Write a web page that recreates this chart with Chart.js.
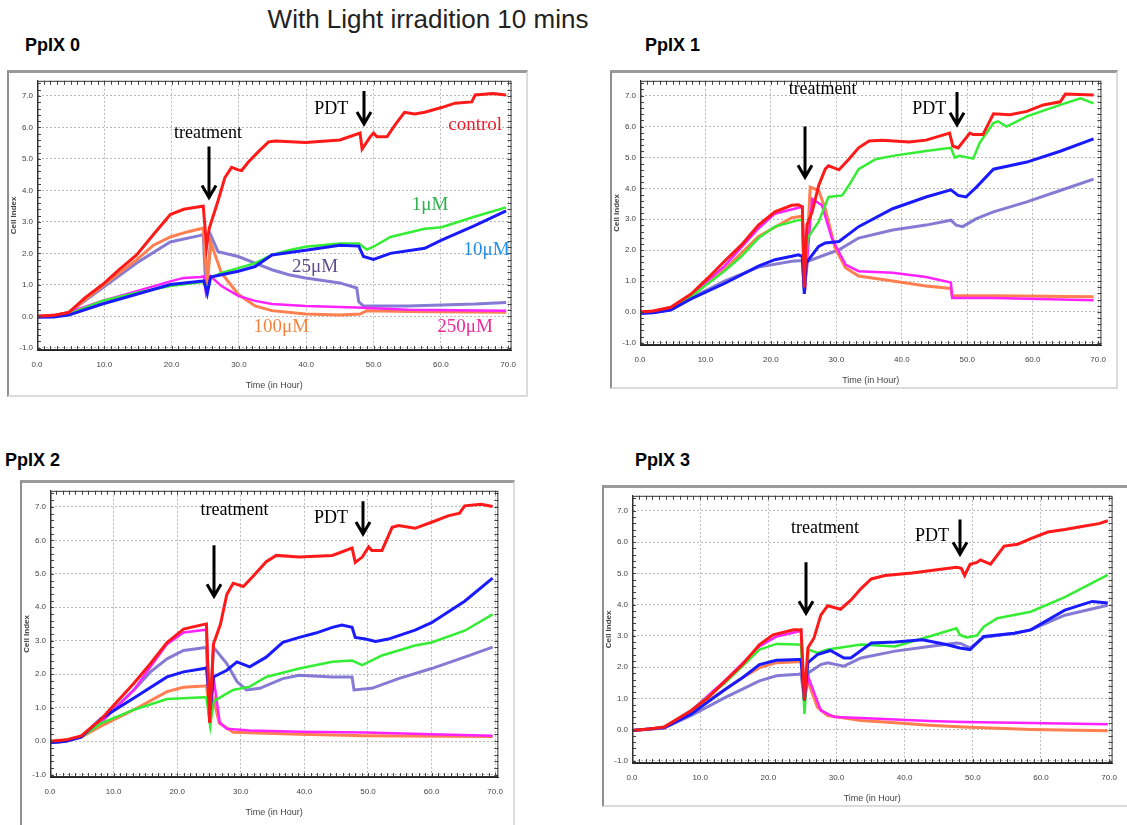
<!DOCTYPE html>
<html>
<head>
<meta charset="utf-8">
<script src="https://cdn.jsdelivr.net/npm/chart.js@4.4.1/dist/chart.umd.min.js"></script>
<style>
  body { margin: 0; background: #fff; width: 1127px; height: 825px; position: relative; overflow: hidden; }
  .title { position: absolute; left: 0; width: 856px; top: 4px; text-align: center; font: 26px "Liberation Sans", Arial, sans-serif; color: #222; }
  .ptitle { position: absolute; font: bold 18px "Liberation Sans", Arial, sans-serif; color: #000; }
  .frame { position: absolute; box-sizing: border-box; border-top: 3px solid #9a9a9a; border-left: 2px solid #8f8f8f;
           border-right: 2px solid #dcdcdc; border-bottom: 2px solid #dcdcdc; background: #fff; }
  canvas { position: absolute; }
</style>
</head>
<body>
<div class="title">With Light irradition 10 mins</div>
<div class="ptitle" style="left:25px;top:35px">PpIX 0</div>
<div class="ptitle" style="left:645px;top:35px">PpIX 1</div>
<div class="ptitle" style="left:5px;top:450px">PpIX 2</div>
<div class="ptitle" style="left:635px;top:450px">PpIX 3</div>

<div class="frame" style="left:7px;top:70px;width:521px;height:327px"></div>
<div class="frame" style="left:610px;top:70px;width:508px;height:319px"></div>
<div class="frame" style="left:20px;top:480px;width:495px;height:360px"></div>
<div class="frame" style="left:602px;top:485px;width:540px;height:322px"></div>

<canvas id="c0" width="517" height="323" style="left:9px;top:72px"></canvas>
<canvas id="c1" width="504" height="315" style="left:612px;top:72px"></canvas>
<canvas id="c2" width="491" height="343" style="left:22px;top:482px"></canvas>
<canvas id="c3" width="523" height="318" style="left:604px;top:487px"></canvas>

<script>
// axis ticks
const xTicks = [0, 10, 20, 30, 40, 50, 60, 70];
const yTicks = [-1, 0, 1, 2, 3, 4, 5, 6, 7];
const seriesNames = ['control', '1μM', '10μM', '25μM', '100μM', '250μM'];

// ---- PpIX 0 : [time (h), cell index]
const p0Control = [[0,0],[2.5,0.03],[4.7,0.12],[7.2,0.6],[9.7,1.0],[12.2,1.48],[14.8,1.95],[17.3,2.6],[19.8,3.23],[21.8,3.4],[24.3,3.49],[24.7,3.5],[25.2,2.2],[25.6,2.8],[26.9,3.67],[27.9,4.4],[28.9,4.73],[29.9,4.65],[30.4,4.63],[31.4,4.9],[32.9,5.23],[34.4,5.54],[35.4,5.57],[39.9,5.52],[45,5.6],[48,5.82],[48.3,5.31],[49.5,5.7],[50,5.82],[50.5,5.7],[52,5.7],[53.3,6.11],[54.6,6.48],[56.1,6.43],[57.6,6.48],[60.1,6.63],[62.1,6.77],[64.6,6.81],[65.1,7.03],[67.7,7.08],[69.7,7.03]];
const p0Um1 = [[0,0],[2.5,0.02],[4.7,0.07],[9.7,0.49],[14.8,0.75],[19.8,0.96],[24.3,1.08],[24.8,1.1],[25.3,0.85],[25.8,1.22],[27.4,1.375],[29.9,1.53],[32.4,1.69],[34.9,1.95],[37.4,2.1],[39.9,2.21],[45,2.31],[47.8,2.31],[49,2.12],[50,2.21],[52.5,2.52],[57.6,2.78],[60.1,2.83],[65.1,3.17],[69.7,3.46]];
const p0Um10 = [[0,-0.03],[2.5,-0.02],[4.7,0.04],[9.7,0.39],[14.8,0.7],[19.8,1.01],[24.3,1.11],[24.8,1.12],[25.3,0.72],[25.8,1.25],[29.9,1.43],[32.4,1.58],[34.9,1.95],[39.9,2.1],[45,2.26],[47.8,2.23],[48.5,1.9],[50,1.81],[52.5,2.0],[57.6,2.16],[60.1,2.42],[65.1,2.89],[69.7,3.35]];
const p0Um25 = [[0,0],[2.5,0.03],[4.7,0.12],[9.7,0.9],[14.8,1.69],[19.8,2.36],[24.3,2.57],[24.7,2.6],[25.1,0.85],[25.9,2.54],[26.9,2.05],[29.9,1.9],[32.4,1.69],[34.9,1.48],[37.4,1.32],[39.9,1.22],[45,1.06],[47.5,0.9],[47.8,0.46],[48.5,0.33],[55.1,0.33],[65.1,0.39],[69.7,0.44]];
const p0Um100 = [[0,0],[2.5,0.03],[4.7,0.12],[7.2,0.54],[9.7,0.96],[12.2,1.375],[14.8,1.79],[17.3,2.26],[19.8,2.52],[22.3,2.68],[24.3,2.78],[24.7,2.8],[25.3,0.96],[25.8,2.36],[27.4,1.375],[29.9,0.7],[32.4,0.33],[34.9,0.18],[39.9,0.07],[45,0.04],[48,0.07],[49,0.18],[55.1,0.15],[69.7,0.13]];
const p0Um250 = [[0,-0.02],[2.5,0.02],[4.7,0.12],[9.7,0.49],[14.8,0.8],[19.8,1.11],[21.8,1.22],[24.3,1.25],[24.8,1.27],[25.1,0.75],[25.8,1.27],[27.4,0.96],[29.9,0.65],[32.4,0.49],[34.9,0.39],[39.9,0.33],[47.5,0.28],[55.1,0.21],[69.7,0.18]];

// ---- PpIX 1
const p1Control = [[0,0],[2,0.03],[4.7,0.15],[7.8,0.58],[10.4,1.1],[12.9,1.64],[15.5,2.17],[18.1,2.81],[20.6,3.24],[23.2,3.45],[24.2,3.47],[24.8,3.4],[25.1,0.79],[25.5,2.81],[26.3,3.24],[27.3,4.09],[28.3,4.62],[28.8,4.73],[30.4,4.6],[31.9,4.94],[33.4,5.31],[35,5.53],[37,5.56],[41.1,5.5],[43.7,5.56],[47.3,5.79],[47.8,5.37],[48.6,5.31],[50.4,5.79],[50.9,5.74],[52.4,5.74],[54,6.41],[56.5,6.38],[59.1,6.49],[61.6,6.7],[64.2,6.8],[65,7.05],[69.3,7.02]];
const p1Um1 = [[0,0],[2,0.02],[4.7,0.13],[7.8,0.5],[12.9,1.32],[15.5,1.8],[18.1,2.39],[20.6,2.76],[24.2,2.97],[24.8,2.98],[25.1,0.58],[25.6,2.39],[27.3,2.92],[28.8,3.72],[30.9,3.77],[31.9,4.09],[33.4,4.62],[36,4.94],[38.6,5.05],[43.7,5.21],[47.5,5.31],[48.1,4.99],[48.8,5.05],[50.9,4.96],[51.9,5.47],[54,6.11],[54.7,6.17],[56,6.0],[59.1,6.33],[64.2,6.7],[67.3,6.91],[69.3,6.75]];
const p1Um10 = [[0,-0.05],[2,-0.03],[4.7,0.06],[7.8,0.42],[12.9,0.92],[18.1,1.48],[20.6,1.69],[23.2,1.8],[24.2,1.85],[24.8,1.8],[25.1,0.58],[25.4,1.59],[27.3,2.12],[28.3,2.23],[30.4,2.28],[33.4,2.76],[38.6,3.34],[43.7,3.72],[47.5,3.95],[48.6,3.77],[49.8,3.72],[51.4,4.04],[54,4.62],[59.1,4.85],[64.2,5.2],[69.3,5.6]];
const p1Um25 = [[0,-0.03],[2,-0.02],[4.7,0.08],[7.8,0.45],[12.9,1.0],[18.1,1.45],[23.2,1.64],[24.2,1.66],[24.8,1.66],[25.1,0.79],[25.6,1.64],[28.3,1.85],[30.4,2.01],[33.4,2.39],[38.6,2.65],[43.7,2.81],[47.5,2.97],[48.3,2.81],[49.3,2.76],[51.4,3.02],[54,3.24],[59.1,3.56],[64.2,3.93],[69.3,4.3]];
const p1Um100 = [[0,0],[2,0.02],[4.7,0.13],[7.8,0.52],[12.9,1.37],[18.1,2.44],[23.2,3.05],[24.2,3.08],[24.8,3.1],[25.2,0.68],[26,4.04],[27.3,3.93],[28.3,3.34],[29.8,2.07],[31.4,1.43],[33.4,1.16],[38.6,1.0],[43.7,0.84],[47.5,0.76],[47.7,0.52],[54,0.52],[69.3,0.49]];
const p1Um250 = [[0,0],[2,0.03],[4.7,0.14],[7.8,0.55],[12.9,1.48],[18.1,2.7],[20.6,3.18],[24.2,3.37],[24.8,3.4],[25.2,0.79],[26.3,3.66],[27.8,3.45],[29.3,2.39],[31.4,1.53],[33.4,1.32],[38.6,1.27],[43.7,1.13],[47.5,0.95],[47.7,0.45],[54,0.45],[69.3,0.38]];

// ---- PpIX 2
const p2Control = [[0,0],[2.5,0.04],[4.9,0.16],[8,0.65],[10.6,1.19],[13.2,1.73],[15.8,2.32],[18.4,2.95],[21,3.35],[24.2,3.49],[24.6,3.5],[25.1,0.55],[25.7,2.9],[26.8,3.49],[27.8,4.38],[28.8,4.72],[30.4,4.62],[31.9,4.92],[34,5.36],[35.6,5.55],[39.2,5.5],[44.4,5.55],[47.5,5.77],[48,5.34],[49.1,5.5],[50.1,5.8],[50.6,5.7],[52.2,5.7],[53.8,6.39],[54.8,6.44],[57.4,6.36],[60,6.54],[62.6,6.73],[64.4,6.81],[65.2,7.03],[67.8,7.08],[69.6,7.01]];
const p2Um1 = [[0,-0.05],[2.5,0],[4.9,0.12],[8,0.53],[13.2,0.94],[18.4,1.26],[24.2,1.31],[24.6,1.3],[25.2,0.45],[25.7,1.19],[28.8,1.53],[31.4,1.63],[34,1.92],[39.2,2.17],[44.4,2.37],[47.5,2.41],[49.1,2.27],[52.2,2.56],[57.4,2.86],[60,2.95],[65.2,3.3],[69.6,3.79]];
const p2Um10 = [[0,-0.05],[2.5,0],[4.9,0.12],[8,0.67],[13.2,1.29],[18.4,1.92],[21,2.07],[24.2,2.17],[24.6,2.2],[25.2,0.94],[25.7,1.92],[27.8,2.12],[29.4,2.37],[31.4,2.22],[34,2.51],[36.6,2.95],[39.2,3.1],[41.8,3.23],[44.4,3.4],[45.9,3.47],[47.5,3.4],[48,3.1],[49.6,3.05],[51.2,2.98],[53.2,3.05],[57.4,3.32],[60,3.54],[65.2,4.18],[69.6,4.87]];
const p2Um25 = [[0,-0.05],[2.5,0],[4.9,0.14],[8,0.6],[13.2,1.53],[15.8,2.07],[18.4,2.46],[21,2.71],[24.2,2.79],[24.6,2.8],[25.1,0.55],[25.7,2.81],[27.8,2.32],[29.4,1.78],[30.9,1.53],[33,1.58],[36.6,1.87],[39.2,1.97],[44.4,1.92],[47.5,1.92],[47.8,1.53],[50.6,1.58],[54.8,1.87],[60,2.17],[65.2,2.51],[69.6,2.81]];
const p2Um100 = [[0,-0.05],[2.5,0],[4.9,0.12],[8,0.45],[13.2,0.94],[18.4,1.48],[21,1.61],[24.2,1.65],[24.6,1.66],[25.2,0.7],[25.8,1.2],[26.6,0.55],[28.8,0.27],[39.2,0.21],[49.6,0.16],[69.6,0.14]];
const p2Um250 = [[0,-0.05],[2.5,0],[4.9,0.14],[8,0.55],[13.2,1.53],[15.8,2.22],[18.4,2.9],[21,3.25],[24.2,3.32],[24.6,3.33],[25.2,0.55],[25.7,1.92],[26.7,0.55],[27.8,0.37],[31.4,0.32],[39.2,0.28],[49.6,0.26],[60,0.21],[69.6,0.16]];

// ---- PpIX 3
const p3Control = [[0,-0.03],[2.5,0.02],[4.7,0.08],[8.7,0.61],[11.2,1.03],[13.7,1.56],[16.2,2.08],[18.7,2.72],[20.7,3.03],[23.7,3.19],[24.4,3.19],[24.8,3.2],[25.3,0.93],[25.8,2.61],[26.7,2.93],[27.7,3.66],[28.7,3.96],[30.6,3.85],[32.1,4.14],[33.6,4.51],[35.1,4.82],[37.1,4.93],[41.1,5.01],[43.6,5.08],[47.6,5.19],[48.3,5.16],[48.8,4.93],[49.6,5.29],[50.6,5.35],[51.1,5.43],[52.6,5.29],[54.6,5.87],[56.6,5.93],[58.5,6.11],[61,6.32],[63.5,6.4],[66,6.5],[68.5,6.59],[69.8,6.68]];
const p3Um1 = [[0,-0.03],[2.5,0.02],[4.7,0.08],[8.7,0.61],[13.7,1.5],[16.2,2.03],[18.7,2.56],[21.2,2.74],[24.4,2.72],[24.8,2.7],[25.3,0.5],[25.9,2.56],[27.2,2.45],[28.7,2.56],[33.6,2.72],[38.6,2.66],[43.6,2.98],[47.6,3.24],[48.1,3.03],[49.1,2.95],[50.6,3.01],[51.6,3.29],[53.6,3.56],[58.5,3.77],[63.5,4.24],[69.8,4.95]];
const p3Um10 = [[0,-0.03],[2.5,0.02],[4.7,0.06],[8.7,0.5],[13.7,1.29],[16.2,1.66],[18.7,2.08],[21.2,2.22],[24.4,2.24],[24.8,2.24],[25.3,0.93],[25.8,2.14],[27.2,2.4],[29.1,2.53],[31.1,2.29],[32.1,2.29],[35.1,2.77],[38.6,2.8],[42.6,2.87],[46.1,2.72],[48.1,2.61],[49.6,2.56],[51.6,2.98],[56.1,3.08],[58.5,3.19],[63.5,3.82],[67.5,4.1],[69.8,4.05]];
const p3Um25 = [[0,-0.03],[2.5,0.01],[4.7,0.05],[8.7,0.45],[13.7,1.03],[18.7,1.56],[21.2,1.72],[24.4,1.77],[24.8,1.78],[25.3,0.93],[25.9,1.82],[27.7,2.08],[28.7,2.14],[31.1,2.03],[33.6,2.29],[38.6,2.51],[43.6,2.66],[47.6,2.77],[48.3,2.75],[49.6,2.61],[51.6,2.95],[56.1,3.08],[58.5,3.19],[63.5,3.66],[69.8,3.98]];
const p3Um100 = [[0,-0.03],[2.5,0.02],[4.7,0.06],[8.7,0.56],[13.7,1.29],[16.2,1.66],[18.7,1.98],[21.2,2.14],[24.4,2.17],[24.8,2.18],[25.3,1.0],[25.6,1.66],[27.2,0.72],[28.7,0.45],[33.6,0.29],[38.6,0.22],[43.6,0.14],[48.6,0.08],[58.5,0.0],[69.8,-0.04]];
const p3Um250 = [[0,-0.03],[2.5,0.02],[4.7,0.08],[8.7,0.61],[13.7,1.58],[18.7,2.66],[21.2,2.98],[24.4,3.14],[24.8,3.16],[25.3,1.03],[25.9,1.66],[27.7,0.61],[29.7,0.4],[33.6,0.37],[38.6,0.32],[43.6,0.27],[48.6,0.24],[58.5,0.21],[69.8,0.17]];

// line colours, in seriesNames order
const lineColors = ['#ff1a1a', '#33ee33', '#1a1aff', 'rgba(112,100,205,0.85)', '#ff7f50', '#ff22ff'];
const labelColors = ['#e8202a', '#2bb24c', '#1f8ee8', '#5b4e8c', '#f5823c', '#ee2a9a'];
const lineWidths = [3, 2.5, 3, 3, 3, 2.5];
// draw order: first is on top
const drawOrder = [0, 2, 1, 5, 4, 3];

// panel layouts (plot box inside each canvas) and annotations, in data units
const panels = [
  { id: 'c0', data: [p0Control, p0Um1, p0Um10, p0Um25, p0Um100, p0Um250], pad: { left: 0, top: 6, right: 8, bottom: 4 },
    treat: { text: [25.4, 5.8], arrow: [25.6, 5.39, 3.77] }, pdt: { text: [43.7, 6.58], arrow: [48.6, 7.16, 6.11] },
    labels: [[65.1, 6.06], [58.4, 3.54], [66.8, 2.12], [41.3, 1.58], [36.3, -0.34], [63.6, -0.34]] },
  { id: 'c1', data: [p1Control, p1Um1, p1Um10, p1Um25, p1Um100, p1Um250], pad: { left: 0, top: 6, right: 8, bottom: 1 },
    treat: { text: [27.9, 7.2], arrow: [25.2, 6.0, 4.36] }, pdt: { text: [44.2, 6.56], arrow: [48.4, 7.12, 6.06] } },
  { id: 'c2', data: [p2Control, p2Um1, p2Um10, p2Um25, p2Um100, p2Um250], pad: { left: 0, top: 6, right: 8, bottom: 7 },
    treat: { text: [29.0, 6.9], arrow: [25.8, 5.85, 4.33] }, pdt: { text: [44.2, 6.65], arrow: [49.2, 7.17, 6.19] } },
  { id: 'c3', data: [p3Control, p3Um1, p3Um10, p3Um25, p3Um100, p3Um250], pad: { left: 0, top: 5, right: 9, bottom: 1 },
    treat: { text: [28.3, 6.45], arrow: [25.5, 5.35, 3.72] }, pdt: { text: [44.0, 6.17], arrow: [48.1, 6.72, 5.61] } }
];

function drawArrow(ctx, x, y1, y2) {
  ctx.beginPath();
  ctx.lineWidth = 3;
  ctx.strokeStyle = '#000';
  ctx.moveTo(x, y1);
  ctx.lineTo(x, y2 - 1);
  ctx.moveTo(x - 7, y2 - 12);
  ctx.lineTo(x, y2);
  ctx.lineTo(x + 7, y2 - 12);
  ctx.stroke();
}

const panelDecor = {
  id: 'panelDecor',
  afterDraw(chart, args, opts) {
    const { ctx, chartArea: a, scales: { x, y } } = chart;
    const p = opts.panel;
    ctx.save();
    // small inward tick marks on all four sides
    ctx.beginPath();
    ctx.lineWidth = 1;
    ctx.strokeStyle = '#444';
    for (let t = 1; t <= 70; t++) {
      const px = Math.round(x.getPixelForValue(t)) + 0.5;
      ctx.moveTo(px, a.bottom); ctx.lineTo(px, a.bottom - 4);
      ctx.moveTo(px, a.top); ctx.lineTo(px, a.top + 4);
    }
    for (let k = -5; k <= 37; k++) {
      const py = Math.round(y.getPixelForValue(k * 0.2)) + 0.5;
      ctx.moveTo(a.left, py); ctx.lineTo(a.left + 4, py);
      ctx.moveTo(a.right, py); ctx.lineTo(a.right - 4, py);
    }
    ctx.stroke();
    ctx.strokeStyle = '#333';
    ctx.strokeRect(a.left + 0.5, a.top + 0.5, a.width - 1, a.height - 1);
    ctx.fillStyle = '#333';
    ctx.fillRect(a.left, a.top, 1.5, a.height);

    // annotations
    ctx.font = '18px "Liberation Serif", "Times New Roman", serif';
    ctx.textAlign = 'center';
    ctx.textBaseline = 'middle';
    ctx.fillStyle = '#000';
    ctx.fillText('treatment', x.getPixelForValue(p.treat.text[0]), y.getPixelForValue(p.treat.text[1]));
    ctx.fillText('PDT', x.getPixelForValue(p.pdt.text[0]), y.getPixelForValue(p.pdt.text[1]));
    [p.treat.arrow, p.pdt.arrow].forEach(ar => {
      drawArrow(ctx, Math.round(x.getPixelForValue(ar[0])), y.getPixelForValue(ar[1]), y.getPixelForValue(ar[2]));
    });
    if (p.labels) {
      ctx.font = '19px "Liberation Serif", "Times New Roman", serif';
      p.labels.forEach((pos, i) => {
        ctx.fillStyle = labelColors[i];
        ctx.fillText(seriesNames[i], x.getPixelForValue(pos[0]), y.getPixelForValue(pos[1]));
      });
    }
    ctx.restore();
  }
};

const tickFont = { family: '"Liberation Sans", Arial, sans-serif', size: 8 };

panels.forEach(p => {
  const datasets = drawOrder.map(i => ({
    label: seriesNames[i],
    data: p.data[i].map(d => ({ x: d[0], y: d[1] })),
    borderColor: lineColors[i],
    backgroundColor: lineColors[i],
    borderWidth: lineWidths[i],
    pointRadius: 0,
    tension: 0,
    fill: false
  }));
  new Chart(document.getElementById(p.id), {
    type: 'line',
    data: { datasets },
    options: {
      responsive: false,
      animation: false,
      events: [],
      layout: { padding: p.pad },
      plugins: { legend: { display: false }, tooltip: { enabled: false }, panelDecor: { panel: p } },
      scales: {
        x: {
          type: 'linear', min: 0, max: 70.5,
          afterBuildTicks: s => { s.ticks = xTicks.map(v => ({ value: v })); },
          afterFit: s => { s.height = 41; },
          ticks: { callback: v => v.toFixed(1), font: tickFont, color: '#444', padding: 10, maxRotation: 0, autoSkip: false },
          grid: { color: '#b8b8b8', lineWidth: 1, drawTicks: false },
          border: { color: '#222', dash: [2, 2] },
          title: { display: true, text: 'Time (in Hour)', font: { family: tickFont.family, size: 9 }, color: '#444', padding: 0 }
        },
        y: {
          type: 'linear', min: -1.07, max: 7.48,
          afterBuildTicks: s => { s.ticks = yTicks.map(v => ({ value: v })); },
          afterFit: s => { s.width = 28; },
          ticks: { callback: v => v.toFixed(1), font: tickFont, color: '#444', padding: 4, autoSkip: false },
          grid: { color: '#b8b8b8', lineWidth: 1, drawTicks: false },
          border: { color: '#222', dash: [2, 2] },
          title: { display: true, text: 'Cell Index', font: { family: tickFont.family, size: 8, weight: 'bold' }, color: '#444', padding: 0 }
        }
      }
    },
    plugins: [panelDecor]
  });
});
</script>
</body>
</html>
